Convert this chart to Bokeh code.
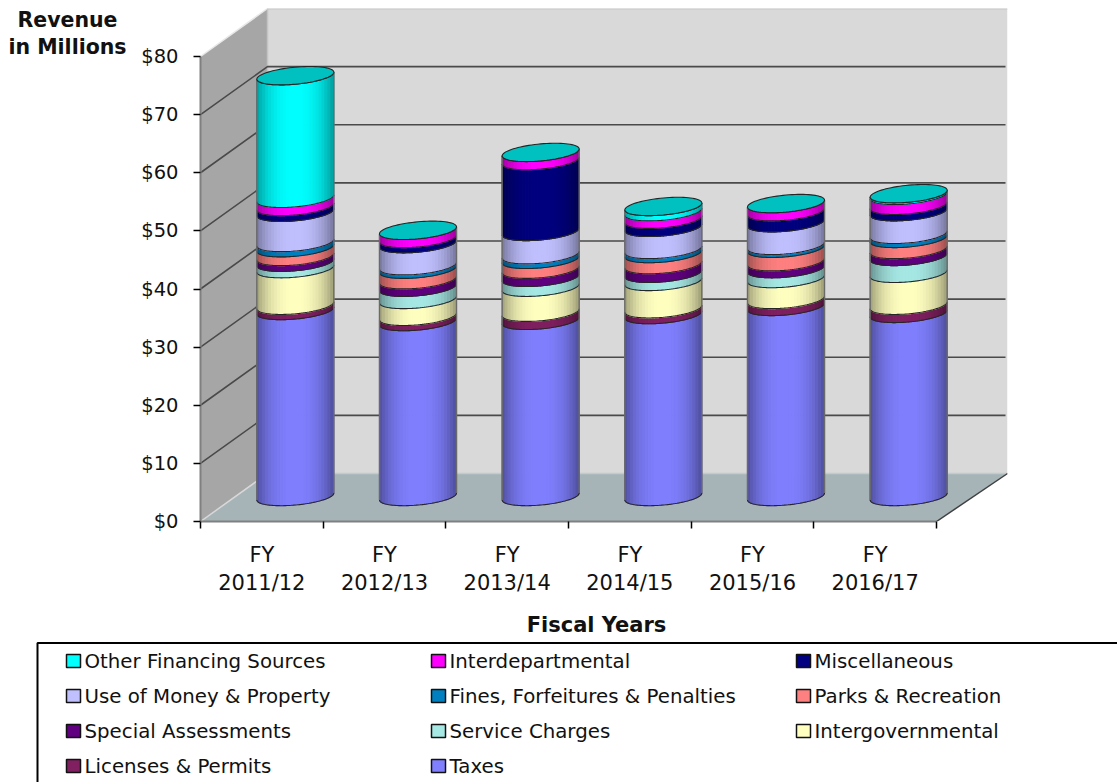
import numpy as np
from bokeh.embed import file_html
from bokeh.resources import INLINE
from bokeh.plotting import figure
from bokeh.layouts import column, row
from bokeh.models import Range1d, FixedTicker, ColumnDataSource
from bokeh.core.properties import value

# ---- data -------------------------------------------------------------
FISCAL_YEARS = ["FY\n2011/12", "FY\n2012/13", "FY\n2013/14", "FY\n2014/15", "FY\n2015/16", "FY\n2016/17"]
Y_TICKS = [0, 10, 20, 30, 40, 50, 60, 70, 80]
Y_TICK_LABELS = ["$0", "$10", "$20", "$30", "$40", "$50", "$60", "$70", "$80"]
Y_TITLE = ["Revenue", "in Millions"]
X_TITLE = "Fiscal Years"

taxes            = [32.0, 30.1, 30.3, 31.3, 32.7, 31.5]
licenses_permits = [0.9, 0.9, 1.4, 1.0, 1.2, 1.4]
intergovernmental = [6.3, 2.9, 4.3, 4.7, 3.6, 5.5]
service_charges  = [1.1, 2.1, 1.7, 1.4, 1.7, 2.9]
special_assess   = [1.0, 1.3, 1.4, 1.5, 1.2, 1.2]
parks_recreation = [1.5, 1.8, 1.7, 1.9, 2.3, 1.9]
fines_forfeit    = [0.9, 0.6, 0.8, 0.7, 0.5, 0.7]
use_of_money     = [5.2, 3.8, 4.0, 3.8, 3.9, 3.9]
miscellaneous    = [1.0, 0.9, 12.2, 1.4, 1.9, 1.1]
interdepartmental = [1.4, 1.4, 1.4, 1.3, 1.4, 1.7]
other_financing  = [21.1, 0.0, 0.0, 0.9, 0.0, 0.3]

STACK = [
    ("Taxes", taxes, "#8080FF"),
    ("Licenses & Permits", licenses_permits, "#802060"),
    ("Intergovernmental", intergovernmental, "#FFFFC0"),
    ("Service Charges", service_charges, "#A6E8E4"),
    ("Special Assessments", special_assess, "#600080"),
    ("Parks & Recreation", parks_recreation, "#FF8080"),
    ("Fines, Forfeitures & Penalties", fines_forfeit, "#0080C0"),
    ("Use of Money & Property", use_of_money, "#C0C0FF"),
    ("Miscellaneous", miscellaneous, "#000080"),
    ("Interdepartmental", interdepartmental, "#FF00FF"),
    ("Other Financing Sources", other_financing, "#00FFFF"),
]
LEGEND_ORDER = list(reversed(STACK))

# ---- geometry ----------------------------------------------------------
FONT = "DejaVu Sans"
PX_X = 736 / 6            # pixels per category
PX_Y = 465 / 80           # pixels per dollar (millions)
LEFT, BASE = 200, 521     # page position of the $0 / first-category corner
TOP, RIGHT = 8, 1007
PAGE_W, PAGE_H = 1117, 782
SIDE_W = 130              # width of the panel with the y title
MAIN_H = 610              # height of the chart row

def X(px):
    return (px - LEFT) / PX_X

def Y(py):
    return (BASE - py) / PX_Y

DEPTH_X, DEPTH_Y = 67 / PX_X, 48 / PX_Y
MID_X, MID_Y = 33.5 / PX_X, 25 / PX_Y
A = 38.5 / PX_X           # cylinder half width
B = 8.5 / PX_Y            # ellipse half height
SHEAR = 0.09 * PX_X / PX_Y
N = 26

p = figure(width=PAGE_W - SIDE_W, height=MAIN_H, output_backend="svg", toolbar_location=None,
           x_range=Range1d(X(LEFT), X(RIGHT)), y_range=Range1d(0, Y(TOP)),
           min_border_left=LEFT - SIDE_W, min_border_right=PAGE_W - RIGHT,
           min_border_top=TOP, min_border_bottom=MAIN_H - BASE,
           outline_line_color=None, background_fill_color="white", border_fill_color="white",
           frame_align=False)
p.grid.visible = False

# walls and floor
top_d = 80 + DEPTH_Y
p.patch([0, DEPTH_X, DEPTH_X, 0], [0, DEPTH_Y, top_d, 80], fill_color="#A6A6A6", line_color=None)
p.patch([DEPTH_X, X(RIGHT), X(RIGHT), DEPTH_X], [DEPTH_Y, DEPTH_Y, top_d, top_d],
        fill_color="#D9D9D9", line_color=None)
p.patch([0, DEPTH_X, X(RIGHT), 6], [0, DEPTH_Y, DEPTH_Y, 0], fill_color="#A6B4B8", line_color=None)
p.line([0, DEPTH_X], [80, top_d], line_color="#E8E8E8", line_width=1.5)
p.line([DEPTH_X, DEPTH_X], [DEPTH_Y, top_d], line_color="#C4C4C4", line_width=1.5)
p.line([DEPTH_X, X(RIGHT)], [top_d, top_d], line_color="#C8C8C8", line_width=2)
p.line([0, DEPTH_X], [0, DEPTH_Y], line_color="#D8D8D8", line_width=1.5)
p.line([DEPTH_X, X(RIGHT)], [DEPTH_Y, DEPTH_Y], line_color="#C4CACC", line_width=1.5)
p.line([6, X(RIGHT)], [0, DEPTH_Y], line_color="#404040", line_width=1.5)

# gridlines along left wall and back wall
gx, gy = [], []
for t in Y_TICKS[1:-1]:
    gx.append([0, DEPTH_X, X(RIGHT) - 2 / PX_X])
    gy.append([t, t + DEPTH_Y, t + DEPTH_Y])
p.multi_line(gx, gy, line_color="#4A4A4A", line_width=1.6)

# cylinders
def shade(col, f):
    r, g, b = int(col[1:3], 16), int(col[3:5], 16), int(col[5:7], 16)
    return "#%02x%02x%02x" % (int(r * f), int(g * f), int(b * f))

def arc(cx, xs, v):
    u = np.clip((xs - cx) / A, -1, 1)
    return v + MID_Y - B * np.sqrt(1 - u * u) + SHEAR * (xs - cx)

strip_x, strip_y, strip_c = [], [], []
arc_x, arc_y = [], []
edge_x, edge_y = [], []
cap_x, cap_y = [], []
for i in range(len(FISCAL_YEARS)):
    cx = i + 0.5 + MID_X
    base = 0.0
    edges = np.linspace(cx - A, cx + A, N + 1)
    fine = cx + A * np.sin(np.linspace(-np.pi / 2, np.pi / 2, 61))
    for k, (name, vals, col) in enumerate(STACK):
        v = vals[i]
        if v <= 0:
            continue
        top = base + v
        for j in range(N):
            xl, xr = edges[j], edges[j + 1]
            xs = np.linspace(xl, xr, 4)
            strip_x.append(list(xs) + list(xs[::-1]))
            strip_y.append(list(arc(cx, xs, base)) + list(arc(cx, xs[::-1], top)))
            um = ((xl + xr) / 2 - cx) / A
            strip_c.append(shade(col, 1 - 0.38 * abs(um) ** 2.4))
        arc_x.append(list(fine))
        arc_y.append(list(arc(cx, fine, top)))
        base = top
    arc_x.append(list(fine))
    arc_y.append(list(arc(cx, fine, 0.0)))
    edge_x += [[cx - A, cx - A], [cx + A, cx + A]]
    edge_y += [[float(arc(cx, np.array([cx - A]), 0.0)[0]), float(arc(cx, np.array([cx - A]), base)[0])],
               [float(arc(cx, np.array([cx + A]), 0.0)[0]), float(arc(cx, np.array([cx + A]), base)[0])]]
    t = np.linspace(0, 2 * np.pi, 81)
    ex = cx + A * np.cos(t)
    ey = base + MID_Y + B * np.sin(t) + SHEAR * (ex - cx)
    cap_x.append(list(ex))
    cap_y.append(list(ey))

src = ColumnDataSource(dict(xs=strip_x, ys=strip_y, c=strip_c))
p.patches("xs", "ys", source=src, fill_color="c", line_color="c", line_width=1.1)
p.multi_line(arc_x, arc_y, line_color="#262626", line_width=1.1)
p.multi_line(edge_x, edge_y, line_color="#6A6A6A", line_width=1.4)
p.patches(cap_x, cap_y, fill_color="#00C0C0", line_color="#262626", line_width=1.1)

# axes
ax = p.yaxis[0]
ax.ticker = FixedTicker(ticks=Y_TICKS)
ax.major_label_overrides = {t: s for t, s in zip(Y_TICKS, Y_TICK_LABELS)}
ax.bounds = (0, 80)
ax.axis_line_color = "#808080"
ax.axis_line_width = 2
ax.major_tick_line_color = "black"
ax.major_tick_line_width = 1.5
ax.major_tick_in = 0
ax.major_tick_out = 7
ax.minor_tick_line_color = None
ax.major_label_standoff = 15
ax.major_label_text_font = FONT
ax.major_label_text_font_size = "19.5px"
ax.major_label_text_color = "#111111"

bx = p.xaxis[0]
cat_pos = [i + 0.5 for i in range(len(FISCAL_YEARS))]
bx.ticker = FixedTicker(ticks=cat_pos, minor_ticks=list(range(len(FISCAL_YEARS) + 1)))
bx.major_label_overrides = {t: s for t, s in zip(cat_pos, FISCAL_YEARS)}
bx.bounds = (0, 6)
bx.axis_line_color = "#808080"
bx.axis_line_width = 2
bx.major_tick_line_color = None
bx.major_tick_in = 0
bx.major_tick_out = 0
bx.minor_tick_line_color = "black"
bx.minor_tick_line_width = 1.5
bx.minor_tick_in = 0
bx.minor_tick_out = 7
bx.major_label_standoff = 14
bx.major_label_text_font = FONT
bx.major_label_text_font_size = "21px"
bx.major_label_text_color = "#111111"
bx.major_label_text_line_height = 1.2

# panel with the y title
r = figure(width=SIDE_W, height=MAIN_H, output_backend="svg", toolbar_location=None,
           x_range=Range1d(0, SIDE_W), y_range=Range1d(MAIN_H, 0),
           min_border=0, outline_line_color=None, x_axis_location=None, y_axis_location=None,
           frame_align=False)
r.grid.visible = False
r.text(x=[67, 67], y=[19, 46], text=Y_TITLE, text_font=value(FONT), text_font_style="bold",
       text_font_size="20.5px", text_align="center", text_baseline="middle", text_color="#111111")

# legend panel, with the x title above it
q = figure(width=PAGE_W, height=PAGE_H - MAIN_H, output_backend="svg", toolbar_location=None,
           x_range=Range1d(0, PAGE_W), y_range=Range1d(PAGE_H, MAIN_H),
           min_border=0, outline_line_color=None, x_axis_location=None, y_axis_location=None,
           frame_align=False)
q.grid.visible = False
q.text(x=[596], y=[624], text=[X_TITLE], text_font=value(FONT), text_font_style="bold",
       text_font_size="21px", text_align="center", text_baseline="middle", text_color="#111111")
q.line([37, 37, PAGE_W], [PAGE_H, 642.5, 642.5], line_color="black", line_width=2)
COLS = [84, 449, 814]
ROWS = [661, 696, 731, 766]
lx, ly, lt, lc = [], [], [], []
for n, (name, vals, col) in enumerate(LEGEND_ORDER):
    lx.append(COLS[n % 3])
    ly.append(ROWS[n // 3])
    lt.append(name)
    lc.append(col)
ls = ColumnDataSource(dict(x=lx, y=ly, t=lt, c=lc,
                           l=[v - 18 for v in lx], r=[v - 4 for v in lx],
                           b=[v + 6 for v in ly], u=[v - 7 for v in ly]))
q.quad(left="l", right="r", top="u", bottom="b", source=ls, fill_color="c", line_color="#111111", line_width=1.5)
q.text(x="x", y="y", text="t", source=ls, text_font=value(FONT), text_font_size="19.8px",
       text_baseline="middle", text_color="#111111")

open("out.html", "w").write(file_html(column(row(r, p, spacing=0), q, spacing=0), INLINE))
